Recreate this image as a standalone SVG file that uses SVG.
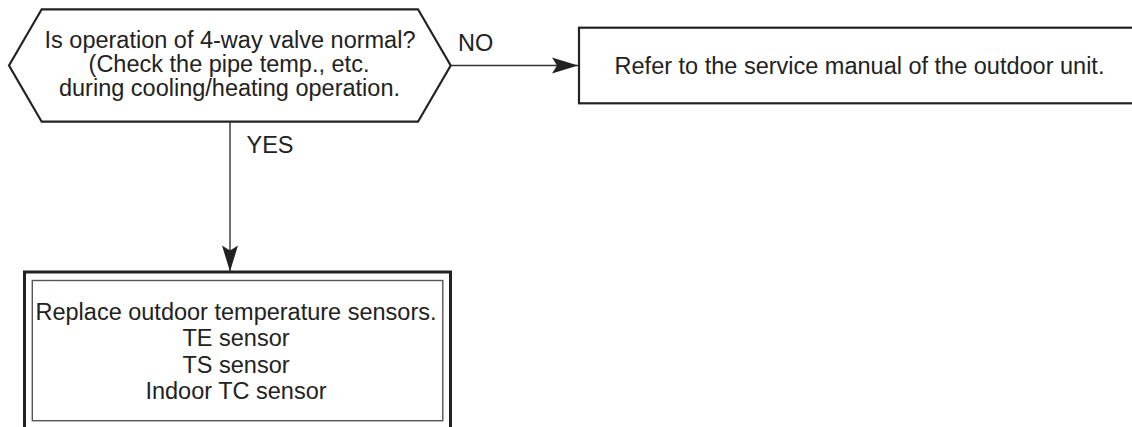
<svg xmlns="http://www.w3.org/2000/svg" width="1132" height="427" viewBox="0 0 1132 427">
<style>
  .t { font-family: "Liberation Sans", Arial, sans-serif; font-size: 23.5px; fill: #222; }
  .c { text-anchor: middle; }
  .shape { fill: #fff; stroke: #222; stroke-width: 2.2; }
  .conn { fill: none; stroke: #333; stroke-width: 1.4; }
</style>
<defs>
  <marker id="ah" markerUnits="userSpaceOnUse" markerWidth="30" markerHeight="20" viewBox="-27 -10 30 20" refX="0" refY="0" orient="auto">
    <path d="M0,0 L-26,-8 L-21,0 L-26,8 Z" fill="#222"/>
  </marker>
</defs>
<rect width="1132" height="427" fill="#fff"/>
<g id="connectors">
  <path class="conn" d="M451,65.5 L578,65.5" marker-end="url(#ah)"/>
  <path class="conn" d="M230,122 L230,271.5" marker-end="url(#ah)"/>
  <text class="t" x="458" y="50.7">NO</text>
  <text class="t" x="246.5" y="152.7">YES</text>
</g>
<g id="decision">
  <polygon class="shape" points="9,65.5 41.7,9.3 418,9.3 450.7,65.5 418,121.7 41.7,121.7"/>
  <text class="t c" x="230" y="47.7">Is operation of 4-way valve normal?</text>
  <text class="t c" x="229" y="71.7">(Check the pipe temp., etc.</text>
  <text class="t c" x="229.5" y="95.7">during cooling/heating operation.</text>
</g>
<g id="refer">
  <rect class="shape" x="579" y="27.7" width="600" height="75.6"/>
  <text class="t c" x="859.5" y="74">Refer to the service manual of the outdoor unit.</text>
</g>
<g id="replace">
  <rect x="24.5" y="272" width="426" height="170" fill="#fff" stroke="#222" stroke-width="3"/>
  <rect x="32.3" y="280.5" width="410.5" height="140.2" fill="none" stroke="#555" stroke-width="1.4"/>
  <text class="t c" x="236" y="320">Replace outdoor temperature sensors.</text>
  <text class="t c" x="236" y="346">TE sensor</text>
  <text class="t c" x="236" y="372.5">TS sensor</text>
  <text class="t c" x="236" y="399">Indoor TC sensor</text>
</g>
</svg>
